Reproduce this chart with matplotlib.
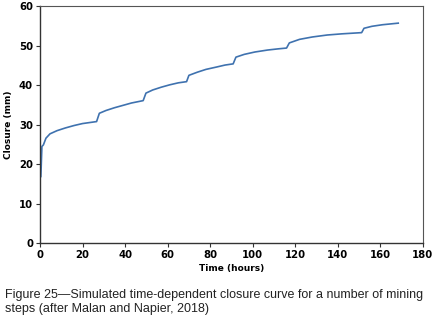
import matplotlib
matplotlib.use("Agg")
import matplotlib.pyplot as plt

# closure curve (hours, mm)
time_h = [0.4, 0.9, 1.6, 2.8, 4.7, 8, 12, 16, 20, 26.6,
          27.9, 31, 35, 39, 43, 48.5,
          49.8, 53, 57, 61, 65, 68.9,
          70.0, 74, 78, 83, 87, 90.8,
          92.1, 96, 101, 107, 112, 115.9,
          117.2, 122, 128, 135, 142, 151.2,
          152.3, 156, 161, 168.4]
closure_mm = [16.9, 24.5, 24.9, 26.6, 27.7, 28.5, 29.2, 29.8, 30.3, 30.8,
              32.9, 33.6, 34.3, 34.9, 35.5, 36.1,
              38.0, 38.8, 39.5, 40.1, 40.6, 40.9,
              42.5, 43.3, 44.0, 44.6, 45.1, 45.4,
              47.1, 47.8, 48.4, 48.9, 49.2, 49.4,
              50.7, 51.6, 52.2, 52.7, 53.0, 53.3,
              54.4, 54.9, 55.3, 55.7]

x_ticks = list(range(0, 181, 20))
y_ticks = list(range(0, 61, 10))

fig = plt.figure(figsize=(4.41, 3.24), dpi=100)
ax = fig.add_axes([0.0907, 0.249, 0.8683, 0.732])
ax.plot(time_h, closure_mm, color="#3f72af", lw=1.2)

ax.set_xlim(0, 180); ax.set_ylim(0, 60)
ax.set_xticks(x_ticks); ax.set_yticks(y_ticks)
ax.tick_params(labelsize=7.3, length=3, width=0.8, color="#333", pad=2)
for lab in ax.get_xticklabels() + ax.get_yticklabels():
    lab.set_fontweight("bold")
for s in ["left", "bottom"]:
    ax.spines[s].set_color("#333"); ax.spines[s].set_linewidth(1.0)
for s in ["top", "right"]:
    ax.spines[s].set_color("#555"); ax.spines[s].set_linewidth(0.8)
ax.set_xlabel("Time (hours)", fontsize=6.5, fontweight="bold", labelpad=3)
ax.set_ylabel("Closure (mm)", fontsize=6.5, fontweight="bold", labelpad=4)

fig.text(0.012, 0.068, "Figure 25\u2014Simulated time-dependent closure curve for a number of mining\n"
         "steps (after Malan and Napier, 2018)", fontsize=9, color="#222",
         family="Liberation Sans", va="center", ha="left", linespacing=1.2)

fig.savefig("out.png", dpi=100, facecolor="white")
